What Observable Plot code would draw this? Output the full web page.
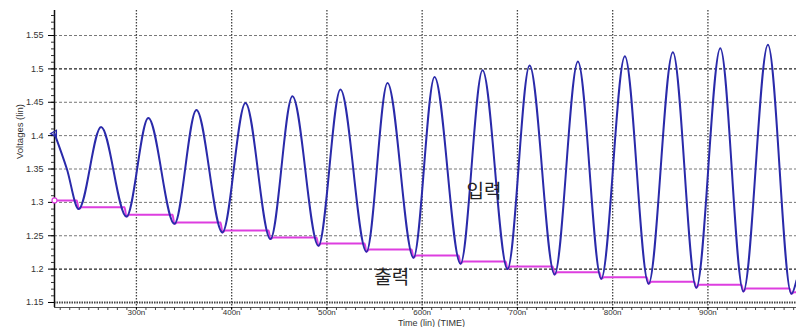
<!DOCTYPE html>
<html><head><meta charset="utf-8">
<script src="https://cdn.jsdelivr.net/npm/d3@7"></script>
<script src="https://cdn.jsdelivr.net/npm/@observablehq/plot@0.6"></script>
<style>html,body{margin:0;padding:0;background:#fff} svg{display:block}</style>
</head><body><div id="chart"></div>
<script>
// Input (입력) waveform key points: time (ns), voltage (V)
const inputT = [214, 227, 239.4, 262.9, 289.5, 312.5, 339.9, 363, 390.3, 414.5, 440.7, 463.8, 491.1, 514.2, 541.5, 563.6, 590.9, 613, 640.3, 663.4, 689.6, 712.8, 739, 763.5, 788, 812.8, 837.7, 863.2, 887.8, 913, 937.2, 963, 987.6, 993];
const inputV = [1.403, 1.350, 1.290, 1.413, 1.2787, 1.4265, 1.2678, 1.4385, 1.255, 1.449, 1.245, 1.459, 1.235, 1.469, 1.226, 1.479, 1.217, 1.488, 1.208, 1.498, 1.200, 1.505, 1.192, 1.511, 1.1855, 1.519, 1.178, 1.525, 1.172, 1.531, 1.1665, 1.536, 1.163, 1.183];

// Output (출력) waveform key points
const outputT = [214, 237.4, 239.4, 242.4, 287.5, 289.5, 292.5, 337.9, 339.9, 342.9, 388.3, 390.3, 393.3, 438.7, 440.7, 443.7, 489.1, 491.1, 494.1, 539.5, 541.5, 544.5, 588.9, 590.9, 593.9, 638.3, 640.3, 643.3, 687.6, 689.6, 692.6, 737, 739, 742, 786, 788, 791, 835.7, 837.7, 840.7, 885.8, 887.8, 890.8, 935.2, 937.2, 940.2, 985.6, 987.6, 990.6, 993];
const outputV = [1.303, 1.303, 1.290, 1.2927, 1.2927, 1.2787, 1.2813, 1.2813, 1.2678, 1.2698, 1.2698, 1.255, 1.2578, 1.2578, 1.245, 1.2473, 1.2473, 1.235, 1.2383, 1.2383, 1.226, 1.2293, 1.2293, 1.217, 1.2204, 1.2204, 1.208, 1.2114, 1.2114, 1.200, 1.2039, 1.2039, 1.192, 1.1952, 1.1952, 1.1855, 1.1879, 1.1879, 1.178, 1.181, 1.181, 1.172, 1.1765, 1.1765, 1.1665, 1.171, 1.171, 1.163, 1.1655, 1.1655];

// Axis ticks
const yTicks = [1.15, 1.2, 1.25, 1.3, 1.35, 1.4, 1.45, 1.5, 1.55];
const yTickLabels = ["1.15", "1.2", "1.25", "1.3", "1.35", "1.4", "1.45", "1.5", "1.55"];
const xTicks = [300, 400, 500, 600, 700, 800, 900];
const xTickLabels = ["300n", "400n", "500n", "600n", "700n", "800n", "900n"];
const xDomain = [214, 993];
const yDomain = [1.1425, 1.5875];

// Annotations
const annotations = [
  {text: "입력", t: 665, v: 1.316},
  {text: "출력", t: 568, v: 1.187}
];

const inputData = inputT.map((t, i) => ({t, v: inputV[i]}));
const outputData = outputT.map((t, i) => ({t, v: outputV[i]}));

const yMinor = d3.range(115, 159).map(d => d / 100);
const xMinor = d3.range(22, 100).map(d => d * 10);
const darkY = [1.2, 1.5];

const chart = Plot.plot({
  width: 796,
  height: 327,
  marginLeft: 54,
  marginRight: 0,
  marginTop: 10,
  marginBottom: 20,
  x: {domain: xDomain, axis: null},
  y: {domain: yDomain, axis: null},
  style: {background: "#fff", fontFamily: "Liberation Sans, Arial, sans-serif"},
  marks: [
    // horizontal dashed grid
    Plot.ruleY(yTicks.filter(d => d !== 1.15 && !darkY.includes(d)), {stroke: "#777", strokeWidth: 1, strokeDasharray: "3,2"}),
    Plot.ruleY(darkY, {stroke: "#222", strokeWidth: 1.3, strokeDasharray: "3,2"}),
    Plot.ruleY([1.15], {stroke: "#444", strokeWidth: 2.2, strokeDasharray: "1.5,1"}),
    // vertical dotted grid
    Plot.ruleX(xTicks, {stroke: "#444", strokeWidth: 1.3, strokeDasharray: "1.5,1.5"}),
    // axes lines
    Plot.ruleX([xDomain[0]], {stroke: "#111", strokeWidth: 1.5}),
    Plot.ruleY([yDomain[0]], {stroke: "#555", strokeWidth: 1, x1: xDomain[0], x2: xDomain[1]}),
    Plot.axisY({ticks: yMinor, tickSize: 3, tickFormat: () => "", stroke: "#333", label: null}),
    Plot.axisY({ticks: yTicks, tickSize: 6, tickPadding: 5, fontSize: 9, fill: "#333", label: null,
      tickFormat: d => yTickLabels[yTicks.indexOf(d)]}),
    Plot.axisX({ticks: xMinor, anchor: "bottom", tickSize: 3, tickFormat: () => "", stroke: "#444", label: null}),
    Plot.axisX({ticks: xTicks, anchor: "bottom", tickSize: 2, tickPadding: 0, fontSize: 8, fill: "#333", label: null,
      tickFormat: d => xTickLabels[xTicks.indexOf(d)]}),
    // series
    Plot.line(outputData, {x: "t", y: "v", stroke: "#dd3ee0", strokeWidth: 2, curve: "monotone-x"}),
    Plot.line(inputData, {x: "t", y: "v", stroke: "#2a2aaa", strokeWidth: 2, curve: "monotone-x"}),
    Plot.dot([outputData[0]], {x: "t", y: "v", r: 2.5, stroke: "#dd3ee0", fill: "#fff", strokeWidth: 1.2}),
    Plot.dot([inputData[0]], {x: "t", y: "v", r: 2.5, symbol: "triangle", stroke: "#2a2aaa", strokeWidth: 1.2, rotate: -90}),
    // annotations
    Plot.text(annotations, {x: "t", y: "v", text: "text", fontSize: 19, fill: "#222",
      fontFamily: "Noto Sans CJK KR"}),
    // axis labels
    Plot.text(["Voltages (lin)"], {frameAnchor: "left", dx: -35, rotate: -90, fontSize: 9.5, fill: "#333"}),
    Plot.text(["Time (lin) (TIME)"], {frameAnchor: "bottom", lineAnchor: "bottom", dx: 6, dy: 18, fontSize: 9, fill: "#333"})
  ]
});
document.getElementById("chart").appendChild(chart);
</script>
</body></html>
